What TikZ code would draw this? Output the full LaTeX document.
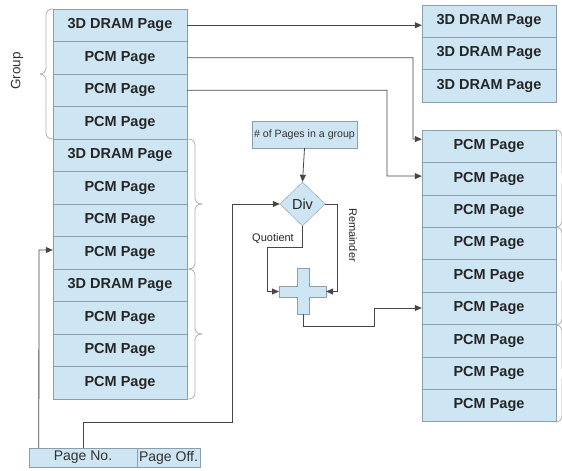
\documentclass[tikz,border=0pt]{standalone}
\usepackage{fontspec}
\setmainfont{Liberation Sans}
\usetikzlibrary{arrows.meta,shapes.geometric,calc}
\definecolor{boxblue}{RGB}{206,229,243}
\definecolor{boxedge}{RGB}{140,158,172}
\definecolor{wire}{RGB}{70,70,70}
\definecolor{bracegray}{RGB}{175,175,175}
\tikzset{
  page/.style={draw=boxedge, fill=boxblue, minimum width=134pt, minimum height=32.4pt,
    inner sep=0pt, font=\fontsize{14.5}{17}\selectfont\bfseries, text=black!85},
  small/.style={draw=boxedge, fill=boxblue, inner sep=0pt},
  wireline/.style={draw=wire, line width=0.8pt, -{Triangle[length=7pt,width=6pt]}},
  bracestyle/.style={draw=bracegray, line width=0.8pt, rounded corners=6pt},
}
\begin{document}
\begin{tikzpicture}[x=1pt, y=-1pt]
\useasboundingbox (0,0) rectangle (562,471);

% left column: three groups of pages
\foreach \i/\t in {1/3D DRAM Page,2/PCM Page,3/PCM Page,4/PCM Page,
                   5/3D DRAM Page,6/PCM Page,7/PCM Page,8/PCM Page,
                   9/3D DRAM Page,10/PCM Page,11/PCM Page,12/PCM Page}
  \node[page, minimum height=32.5pt] (L\i) at (120, {9+32.5*(\i-0.5)}) {\t};

% top right column: DRAM pages
\foreach \i in {1,2,3}
  \node[page, minimum height=32.3pt] (T\i) at (489, {5+32.3*(\i-0.5)}) {3D DRAM Page};

% right column: PCM pages
\foreach \i in {1,...,9}
  \node[page] (R\i) at (489, {130+32.4*(\i-0.5)}) {PCM Page};

% brace marking a group on the left
\draw[bracestyle] (53,9) -- (46,9) -- (46,74) -- (40,74);
\draw[bracestyle] (53,139) -- (46,139) -- (46,74) -- (40,74);
\node[rotate=90, font=\fontsize{13.5}{15}\selectfont, text=black!80] (grp) at (17,71) {Group};

% braces on the right of the left column
\foreach \a/\b in {139/269, 269/399} {
  \draw[bracestyle] (187,\a) -- (195,\a) -- (195,{(\a+\b)/2}) -- (202,{(\a+\b)/2});
  \draw[bracestyle] (187,\b) -- (195,\b) -- (195,{(\a+\b)/2}) -- (202,{(\a+\b)/2});
}
% braces on the right edge of the PCM column
\foreach \a/\b in {130/227, 227/325, 325/422} {
  \draw[bracestyle] (556,\a) -- (562,\a) -- (562,{(\a+\b)/2}) -- (568,{(\a+\b)/2});
  \draw[bracestyle] (556,\b) -- (562,\b) -- (562,{(\a+\b)/2}) -- (568,{(\a+\b)/2});
}

% address fields
\node[small, minimum width=108pt, minimum height=19pt, font=\fontsize{14}{16}\selectfont, text=black!80] (pno) at (83,457.5) {Page No.};
\node[small, minimum width=63pt, minimum height=19pt, font=\fontsize{14}{16}\selectfont, text=black!80] (poff) at (168.5,457.5) {Page Off.};

% pages per group and divider
\node[small, minimum width=105pt, minimum height=27pt, font=\fontsize{10.6}{12}\selectfont, text=black!80] (npg) at (304.5,134.5) {\# of Pages in a group};
\node[draw=boxedge, fill=boxblue, diamond, minimum width=45pt, minimum height=44pt, inner sep=0pt,
      font=\fontsize{14.5}{17}\selectfont, text=black!85] (div) at (302.5,204) {Div};

% adder
\fill[boxblue] (279,286) rectangle (326,297);
\fill[boxblue] (297,268) rectangle (309,314);
\draw[boxedge, line width=0.6pt] (297,268) -- (309,268) -- (309,286) -- (326,286) -- (326,297) -- (309,297)
  -- (309,314) -- (297,314) -- (297,297) -- (279,297) -- (279,286) -- (297,286) -- cycle;
\node[minimum width=47pt, minimum height=46pt, inner sep=0pt] (add) at (302.5,291) {};
\coordinate (addL) at (279,291.5);
\coordinate (addR) at (326,291.5);
\coordinate (addB) at (303,314);

% labels on the divider outputs
\node[font=\fontsize{11}{13}\selectfont, text=black!85] (quo) at (273,239) {Quotient};
\node[rotate=-90, font=\fontsize{11}{13}\selectfont, text=black!85] (rem) at (353,235) {Remainder};

% page mapping connectors
\draw[wireline] (L1.east) -- (L1.east -| T1.west);
\coordinate (r1in) at ($(R1.west)+(0,-7)$);
\draw[wireline] (L2.east) -| (413,139) -- (r1in);
\coordinate (r2in) at ($(R2.west)+(0,-2.5)$);
\draw[wireline] (L3.east) -| (387,176) -- (r2in);

% address computation
\draw[wireline] (npg.south) -- (div.north);
\draw[wireline] (pno.north) -- (83,422) -- (232,422) -- (232,204) -- (div.west);
\coordinate (pnoL) at ($(pno.north west)+(10,0)$);
\draw[wireline] (pnoL) -- (39,250) -- (L8.west |- 0,250);
\draw[wireline] (div.south) -- (302.5,247) -- (267,247) -- (267,291.5) -- (addL);
\draw[wireline] (div.east) -- (337,204) -- (337,291.5) -- (addR);
\draw[wireline] (addB) -- (303,326) -- (374,326) -- (374,308) -- (R6.west |- 0,308);
\end{tikzpicture}
\end{document}
